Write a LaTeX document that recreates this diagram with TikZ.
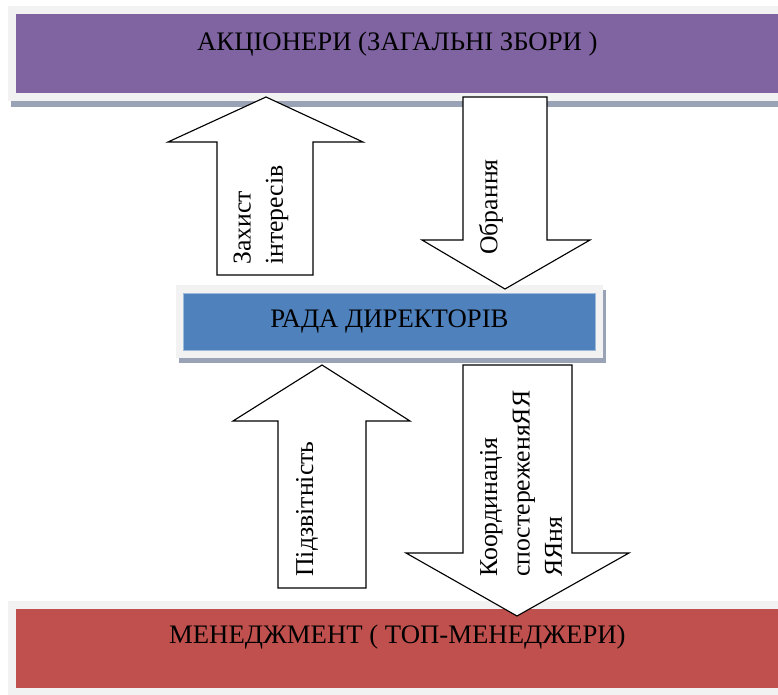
\documentclass[tikz,border=0pt]{standalone}
\usepackage{fontspec}
\setmainfont{Liberation Serif}
\usetikzlibrary{positioning,calc,backgrounds}

\definecolor{lila}{HTML}{8064A2}
\definecolor{kek}{HTML}{4F81BD}
\definecolor{piros}{HTML}{C0504D}
\definecolor{keret}{HTML}{F2F2F2}
\definecolor{arnyek}{HTML}{9AA3B5}

\begin{document}
\begin{tikzpicture}[x=0.025cm,y=-0.025cm,
bar/.style={rectangle,inner sep=0pt,anchor=north west,font=\fontsize{19}{23}\selectfont},
blockarr/.style={draw=black,fill=white,line width=0.8pt,line join=miter},
felirat/.style={rotate=90,anchor=west,align=left,inner sep=0pt,font=\fontsize{18.3}{23}\selectfont}]

\path[use as bounding box] (0,0) rectangle (778,695);

% sávok
\node[bar,fill=lila,minimum width=19.05cm,minimum height=1.975cm,
text height=0.9cm,text depth=1.075cm] (akcioner) at (16,14) {АКЦІОНЕРИ (ЗАГАЛЬНІ ЗБОРИ )};
\node[bar,fill=kek,draw=kek!55!white,line width=0.5pt,minimum width=10.3cm,minimum height=1.425cm,
text height=0.85cm,text depth=0.575cm] (rada) at (183,293) {РАДА ДИРЕКТОРІВ};
\node[bar,fill=piros,minimum width=19.05cm,minimum height=1.975cm,
text height=0.85cm,text depth=1.125cm] (menedzh) at (16,609) {МЕНЕДЖМЕНТ ( ТОП-МЕНЕДЖЕРИ)};

% keret és árnyék
\begin{scope}[on background layer]
\fill[arnyek] ($(akcioner.north west)+(-5,-2)$) rectangle ($(akcioner.south east)+(0,13)$);
\fill[keret] ($(akcioner.north west)+(-8,-8)$) rectangle ($(akcioner.south east)+(0,7)$);
\fill[arnyek] ($(rada.north west)+(-4,-3)$) rectangle ($(rada.south east)+(10,12)$);
\fill[keret] ($(rada.north west)+(-7,-8)$) rectangle ($(rada.south east)+(7,7)$);
\fill[keret] ($(menedzh.north west)+(-8,-8)$) rectangle ($(menedzh.south east)+(0,8)$);
\end{scope}

% nyilak
\coordinate (vedTip) at (266,97);
\draw[blockarr] (vedTip) -- ++(97,45) -- ++(-50,0) -- ++(0,133) -- ++(-96,0) -- ++(0,-133) -- ++(-49,0) -- cycle;
\coordinate (obrTop) at (463,97);
\draw[blockarr] (obrTop) -- ++(84,0) -- ++(0,143) -- ++(43,0) -- ++(-85,49) -- ++(-83,-49) -- ++(41,0) -- cycle;
\coordinate (zvitTip) at (322,365);
\draw[blockarr] (zvitTip) -- ++(88,56) -- ++(-44,0) -- ++(0,167) -- ++(-88,0) -- ++(0,-167) -- ++(-45,0) -- cycle;
\coordinate (koordTop) at (463,365);
\draw[blockarr] (koordTop) -- ++(109,0) -- ++(0,188) -- ++(57,0) -- ++(-112,63) -- ++(-111,-63) -- ++(57,0) -- cycle;

% feliratok
\node[felirat] (vedelem) at (261,265) {Захист\\інтересів};
\node[felirat] (obrannya) at (491,255) {Обрання};
\node[felirat] (zvit) at (307,577) {Підзвітність};
\node[felirat] (koord) at (521,577) {Координація\\спостереженяЯЯ\\ЯЯня};
\end{tikzpicture}
\end{document}
